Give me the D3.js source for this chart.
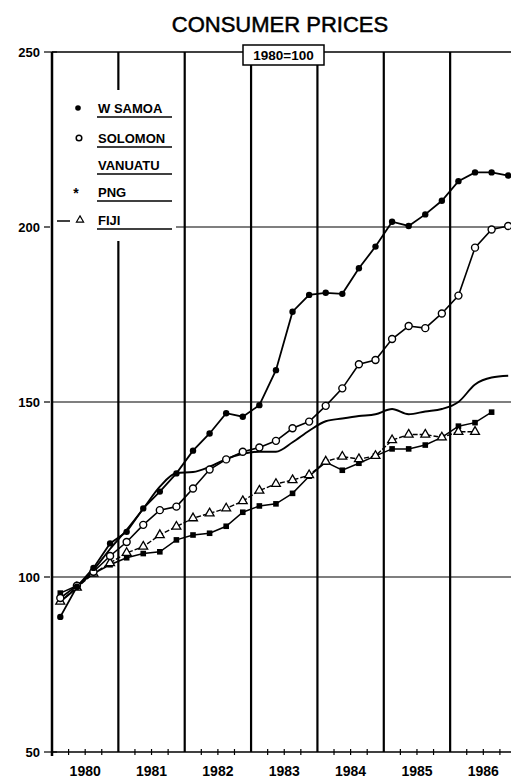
<!DOCTYPE html>
<html><head><meta charset="utf-8">
<script src="https://cdn.jsdelivr.net/npm/d3@7/dist/d3.min.js"></script>
<style>
body{margin:0;background:#fff}
text{font-family:"Liberation Sans",Arial,sans-serif;fill:#000}
</style>
</head><body>
<svg id="c" width="511" height="778"></svg>
<script>
// ---- data (quarterly, 1980 Q1 .. 1986 Q4), index 1980 = 100 ----
const years = ["1980","1981","1982","1983","1984","1985","1986"];
const yTicks = [50,100,150,200,250];
const wSamoa  = [88.6,97.2,102.6,109.6, 112.9,119.6,124.4,129.6, 136.1,141.0,146.8,145.8, 149.1,159.1,175.8,180.6, 181.2,180.9,188.2,194.4, 201.5,200.3,203.6,207.5, 213.1,215.6,215.6,214.7];
const solomon = [94.0,97.5,101.5,106.0, 110.0,114.9,119.1,120.1, 125.3,130.7,133.6,135.8, 137.0,138.9,142.5,144.4, 148.9,153.9,160.8,162.0, 168.0,171.7,171.1,175.3, 180.4,194.1,199.3,200.3];
const vanuatu = [93.0,97.0,102.0,108.0, 113.5,119.5,125.8,129.7, 130.0,131.5,133.7,135.2, 135.8,135.8,138.5,141.8, 144.5,145.3,146.0,146.5, 148.0,146.5,147.3,148.0, 150.0,155.0,157.0,157.5];
const png     = [95.4,97.5,101.0,103.5, 105.5,106.7,107.2,110.6, 112.0,112.5,114.5,118.5, 120.3,120.9,123.9,128.8, 132.8,130.5,132.5,134.6, 136.6,136.6,137.7,139.9, 143.1,144.1,147.1,null];
const fiji    = [93.0,97.0,101.0,104.0, 106.9,108.7,112.0,114.4, 116.8,118.2,119.6,121.7, 124.7,126.6,127.7,129.1, 133.0,134.4,133.7,134.6, 139.1,140.7,140.7,139.9, 141.5,141.5,null,null];
const legendLabels = ["W SAMOA","SOLOMON","VANUATU","PNG","FIJI"];

const svg = d3.select("#c");
const x = d3.scaleLinear().domain([1980,1987]).range([52,516.5]);
const y = d3.scaleLinear().domain([50,250]).range([752,52]);
const tq = i => 1980 + i/4 + 0.125;

// title
svg.append("text").attr("x",280).attr("y",32).attr("text-anchor","middle")
  .style("font-size","22px").attr("stroke","#000").attr("stroke-width",0.5).text("CONSUMER PRICES");

// horizontal grid lines
[100,150].forEach(v=>{
  svg.append("line").attr("x1",52).attr("x2",511).attr("y1",y(v)).attr("y2",y(v))
    .attr("stroke","#000").attr("stroke-width",1.1);
});
svg.append("line").attr("x1",176).attr("x2",511).attr("y1",y(200)).attr("y2",y(200))
    .attr("stroke","#000").attr("stroke-width",1.1);
// top & bottom
svg.append("line").attr("x1",52).attr("x2",511).attr("y1",y(250)).attr("y2",y(250))
    .attr("stroke","#000").attr("stroke-width",1.3);
svg.append("line").attr("x1",52).attr("x2",511).attr("y1",y(50)).attr("y2",y(50))
    .attr("stroke","#000").attr("stroke-width",1.5);

// vertical year lines
years.slice(1).forEach(yr=>{
  const xx = x(+yr);
  if (yr==="1981"){
    svg.append("line").attr("x1",xx).attr("x2",xx).attr("y1",y(250)).attr("y2",90).attr("stroke","#000").attr("stroke-width",2.2);
    svg.append("line").attr("x1",xx).attr("x2",xx).attr("y1",241).attr("y2",y(50)).attr("stroke","#000").attr("stroke-width",2.2);
  } else {
    svg.append("line").attr("x1",xx).attr("x2",xx).attr("y1",y(250)).attr("y2",y(50)).attr("stroke","#000").attr("stroke-width",2.2);
  }
});
// y axis
svg.append("line").attr("x1",52).attr("x2",52).attr("y1",y(250)).attr("y2",y(50)+4).attr("stroke","#000").attr("stroke-width",2.5);

// quarter ticks on bottom axis
d3.range(1980,1987,0.25).filter(t=>t%1!==0).forEach(t=>{
  svg.append("line").attr("x1",x(t)).attr("x2",x(t)).attr("y1",y(50)-3).attr("y2",y(50)+3).attr("stroke","#000").attr("stroke-width",1.2);
});

// y labels & ticks
yTicks.forEach(v=>{
  svg.append("text").attr("x",40).attr("y",y(v)).attr("dy","0.35em").attr("text-anchor","end")
    .style("font-size","13px").style("font-weight","bold").text(v);
  svg.append("line").attr("x1",44).attr("x2",v===250||v===50?57:50).attr("y1",y(v)).attr("y2",y(v)).attr("stroke","#000").attr("stroke-width",1.2);
});
// x labels
years.forEach(yr=>{
  svg.append("text").attr("x",x(+yr+0.5)).attr("y",776).attr("text-anchor","middle")
    .style("font-size","14px").style("font-weight","bold").text(yr);
});

// 1980=100 box
svg.append("rect").attr("x",243).attr("y",45).attr("width",81).attr("height",20)
  .attr("fill","#fff").attr("stroke","#000").attr("stroke-width",1.5);
svg.append("text").attr("x",283.5).attr("y",60).attr("text-anchor","middle")
  .style("font-size","13.5px").style("font-weight","bold").text("1980=100");

// series lines
function drawLine(data, opts){
  const line = d3.line().defined(d=>d!=null).x((d,i)=>x(tq(i))).y(d=>y(d));
  if (opts.curve) line.curve(opts.curve);
  svg.append("path").datum(data).attr("d",line).attr("fill","none").attr("stroke","#000")
    .attr("stroke-width",opts.w||1.6).attr("stroke-dasharray",opts.dash||null);
}
drawLine(vanuatu,{w:1.9,curve:d3.curveMonotoneX});
drawLine(png,{w:1.5});
drawLine(fiji,{w:1.4,dash:"5,2"});
drawLine(solomon,{w:1.6});
drawLine(wSamoa,{w:1.8});

const pts = arr => arr.map((v,i)=>({v,i})).filter(d=>d.v!=null);
// PNG filled squares
svg.selectAll(".png").data(pts(png)).enter().append("rect")
  .attr("x",d=>x(tq(d.i))-2.8).attr("y",d=>y(d.v)-2.8).attr("width",5.6).attr("height",5.6).attr("fill","#000");
// FIJI open triangles
svg.selectAll(".fiji").data(pts(fiji)).enter().append("path")
  .attr("d",d3.symbol().type(d3.symbolTriangle).size(34))
  .attr("transform",d=>`translate(${x(tq(d.i))},${y(d.v)})`)
  .attr("fill","#fff").attr("stroke","#000").attr("stroke-width",1.3);
// SOLOMON open circles
svg.selectAll(".sol").data(pts(solomon)).enter().append("circle")
  .attr("cx",d=>x(tq(d.i))).attr("cy",d=>y(d.v)).attr("r",3.5)
  .attr("fill","#fff").attr("stroke","#000").attr("stroke-width",1.4);
// W SAMOA filled dots
svg.selectAll(".ws").data(pts(wSamoa)).enter().append("circle")
  .attr("cx",d=>x(tq(d.i))).attr("cy",d=>y(d.v)).attr("r",3.2).attr("fill","#000");

// legend
const legY = [108,138,165,192,220];
legendLabels.forEach((lab,k)=>{
  svg.append("text").attr("x",98).attr("y",legY[k]).attr("dy","0.35em")
    .style("font-size","13px").style("font-weight","bold").text(lab);
  svg.append("line").attr("x1",97).attr("x2",172).attr("y1",legY[k]+9).attr("y2",legY[k]+9)
    .attr("stroke","#000").attr("stroke-width",1.5);
});
svg.append("circle").attr("cx",78).attr("cy",legY[0]).attr("r",2.8).attr("fill","#000");
svg.append("circle").attr("cx",79).attr("cy",legY[1]).attr("r",2.8).attr("fill","#fff").attr("stroke","#000").attr("stroke-width",1.5);
svg.append("text").attr("x",76).attr("y",legY[3]).attr("dy","0.45em").attr("text-anchor","middle")
  .style("font-size","14px").style("font-weight","bold").text("*");
svg.append("line").attr("x1",57).attr("x2",70).attr("y1",legY[4]+1).attr("y2",legY[4]+1).attr("stroke","#000").attr("stroke-width",1.5);
svg.append("path").attr("d",d3.symbol().type(d3.symbolTriangle).size(22)())
  .attr("transform",`translate(80,${legY[4]})`).attr("fill","#fff").attr("stroke","#000").attr("stroke-width",1.2);
</script>
</body></html>
